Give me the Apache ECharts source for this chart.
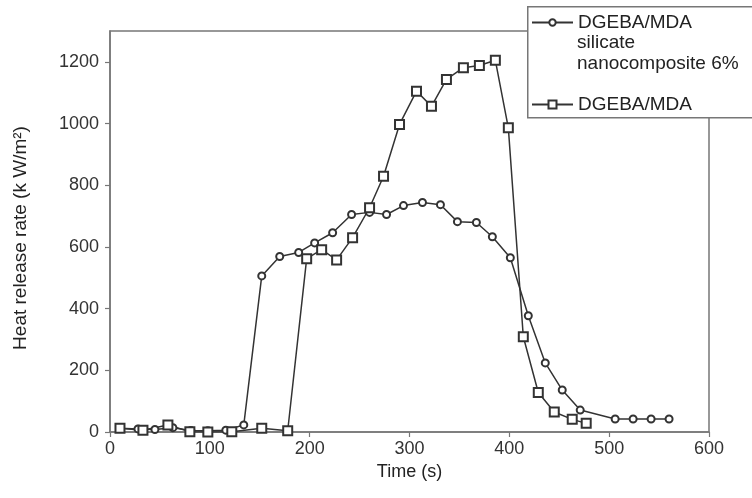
<!DOCTYPE html>
<html>
<head>
<meta charset="utf-8">
<script src="https://cdn.jsdelivr.net/npm/echarts@6/dist/echarts.min.js"></script>
<style>html,body{margin:0;padding:0;background:#fff}#c{width:752px;height:498px}</style>
</head>
<body>
<div id="c"></div>
<script>
// Series names
const nanoName = 'DGEBA/MDA silicate nanocomposite 6%';
const neatName = 'DGEBA/MDA';
// Nanocomposite (circles): time (s)
const nanoTime = [10, 28, 45, 63, 81, 98, 116, 134, 152, 170, 189, 205, 223, 242, 260, 277, 294, 313, 331, 348, 367, 383, 401, 419, 436, 453, 471, 506, 524, 542, 560];
// Nanocomposite HRR (kW/m2)
const nanoHRR  = [12, 10, 8, 14, 5, 4, 6, 23, 506, 569, 582, 613, 646, 705, 712, 705, 734, 744, 737, 682, 679, 633, 565, 377, 224, 136, 71, 42, 42, 42, 42];
// Neat DGEBA/MDA (squares): time (s)
const neatTime = [10, 33, 58, 80, 98, 122, 152, 178, 197, 212, 227, 243, 260, 274, 290, 307, 322, 337, 354, 370, 386, 399, 414, 429, 445, 463, 477];
// Neat HRR (kW/m2)
const neatHRR  = [12, 6, 23, 1, 0, 1, 12, 4, 562, 591, 558, 630, 727, 829, 997, 1105, 1056, 1143, 1181, 1188, 1205, 986, 309, 128, 65, 41, 28];
// Axis ticks
const xTicks = [0, 100, 200, 300, 400, 500, 600];
const yTicks = [0, 200, 400, 600, 800, 1000, 1200];

const FONT = '"Liberation Sans", Arial, sans-serif';
const ink = '#333';
const frame = '#777';

const chart = echarts.init(document.getElementById('c'), null, {renderer: 'canvas'});
chart.setOption({
  animation: false,
  backgroundColor: '#fff',
  textStyle: {fontFamily: FONT},
  grid: {left: 110, right: 43, top: 31, bottom: 66, show: true, borderColor: frame, borderWidth: 1.5, backgroundColor: 'transparent'},
  xAxis: {
    type: 'value', min: 0, max: 600, interval: 100,
    name: 'Time (s)', nameLocation: 'middle', nameGap: 28,
    nameTextStyle: {color: '#222', fontSize: 18, fontFamily: FONT},
    axisLine: {show: true, lineStyle: {color: frame, width: 1.5}},
    axisTick: {show: true, inside: false, length: 5, lineStyle: {color: frame, width: 1.2}, customValues: xTicks},
    axisLabel: {color: ink, fontSize: 18, fontFamily: FONT, margin: 8, customValues: xTicks, formatter: v => String(v)},
    splitLine: {show: false}
  },
  yAxis: {
    type: 'value', min: 0, max: 1300, interval: 100,
    name: 'Heat release rate (k W/m²)', nameLocation: 'middle', nameGap: 80,
    nameTextStyle: {color: '#222', fontSize: 19, fontFamily: FONT, padding: [0, 0, 0, -13]},
    axisLine: {show: true, lineStyle: {color: frame, width: 1.5}},
    axisTick: {show: true, inside: false, length: 5, lineStyle: {color: frame, width: 1.2}, customValues: yTicks},
    axisLabel: {color: ink, fontSize: 18, fontFamily: FONT, margin: 11, customValues: yTicks, formatter: v => String(v)},
    splitLine: {show: false}
  },
  legend: [
    {
      data: [nanoName], orient: 'vertical', left: 531, top: 13, padding: 0,
      itemWidth: 41, itemHeight: 8, itemGap: 0,
      formatter: function () { return 'DGEBA/MDA'; },
      textStyle: {color: '#222', fontSize: 19, fontFamily: FONT},
      selectedMode: false, z: 6
    },
    {
      data: [neatName], orient: 'vertical', left: 531, top: 95, padding: 0,
      itemWidth: 41, itemHeight: 10, itemGap: 0,
      textStyle: {color: '#222', fontSize: 19, fontFamily: FONT},
      selectedMode: false, z: 6
    }
  ],
  graphic: [
    {type: 'rect', left: 527, top: 6, z: 5, shape: {width: 240, height: 111}, style: {fill: '#fff', stroke: frame, lineWidth: 1.5}},
    {type: 'text', left: 577, top: 33, z: 7, style: {text: 'silicate', fill: '#222', font: '19px ' + FONT}},
    {type: 'text', left: 577, top: 54, z: 7, style: {text: 'nanocomposite 6%', fill: '#222', font: '19px ' + FONT}}
  ],
  series: [
    {
      name: nanoName, type: 'line',
      data: nanoTime.map((t, i) => [t, nanoHRR[i]]),
      symbol: 'emptyCircle', symbolSize: 7,
      lineStyle: {color: ink, width: 1.5},
      itemStyle: {color: ink, borderColor: ink, borderWidth: 1.3},
      z: 3
    },
    {
      name: neatName, type: 'line',
      data: neatTime.map((t, i) => [t, neatHRR[i]]),
      symbol: 'emptyRect', symbolSize: 9,
      lineStyle: {color: ink, width: 1.5},
      itemStyle: {color: ink, borderColor: ink, borderWidth: 1.3},
      z: 3
    }
  ]
});
</script>
</body>
</html>
